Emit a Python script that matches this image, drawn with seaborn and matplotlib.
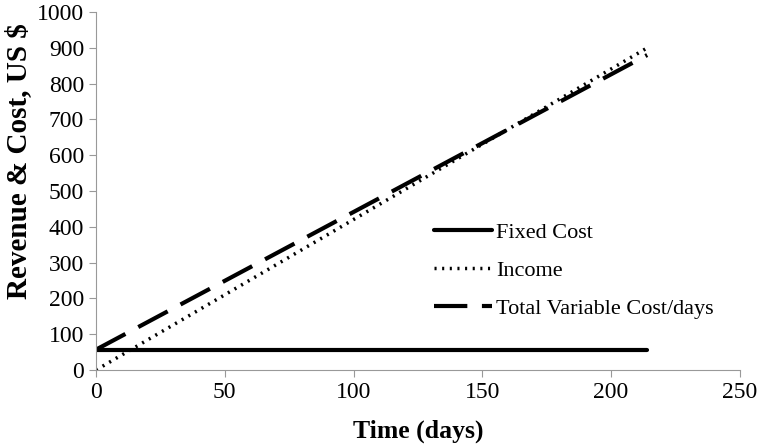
import numpy as np
import matplotlib.pyplot as plt
import seaborn as sns
import pandas as pd

days = [0, 214]
fixed_cost = [57, 57]
income = [0, 900]
total_var_cost = [57, 880]

sns.set_style("white")
plt.rcParams["font.family"] = ["Liberation Serif", "DejaVu Serif"]
plt.rcParams["text.color"] = "black"
plt.rcParams["xtick.color"] = "black"
plt.rcParams["ytick.color"] = "black"

fig = plt.figure(figsize=(7.62, 4.48), dpi=100)
ax = fig.add_axes([0.126, 0.174, 0.845, 0.799])

sns.lineplot(x=days, y=fixed_cost, ax=ax, color="black", lw=3, label="Fixed Cost")
sns.lineplot(x=days, y=income, ax=ax, color="black", lw=2.5, label="Income",
             linestyle=(0, (0.6, 1.6)))
sns.lineplot(x=days, y=total_var_cost, ax=ax, color="black", lw=3,
             label="Total Variable Cost/days", linestyle=(0, (8, 3.5)))

ax.set_xlim(0, 250)
ax.set_ylim(0, 1000)
ax.set_xticks(range(0, 251, 50))
ax.set_yticks(range(0, 1001, 100))
ax.tick_params(labelsize=17, length=5, color="#999999", direction="out",
               left=True, bottom=True, labelcolor="black")
for s in ["top", "right"]:
    ax.spines[s].set_visible(False)
for s in ["left", "bottom"]:
    ax.spines[s].set_color("#999999")
ax.set_xlabel("Time (days)", fontsize=18.5, fontweight="bold", color="black",
              labelpad=12)
ax.set_ylabel("Revenue & Cost, US $", fontsize=21, fontweight="bold", color="black")
ax.yaxis.set_label_coords(-0.1, 0.585)
ax.legend(loc="center left", bbox_to_anchor=(0.494, 0.278), frameon=False,
          fontsize=16, handlelength=2.6, labelspacing=0.78, handletextpad=0.2)

plt.savefig("out.png", dpi=100)
